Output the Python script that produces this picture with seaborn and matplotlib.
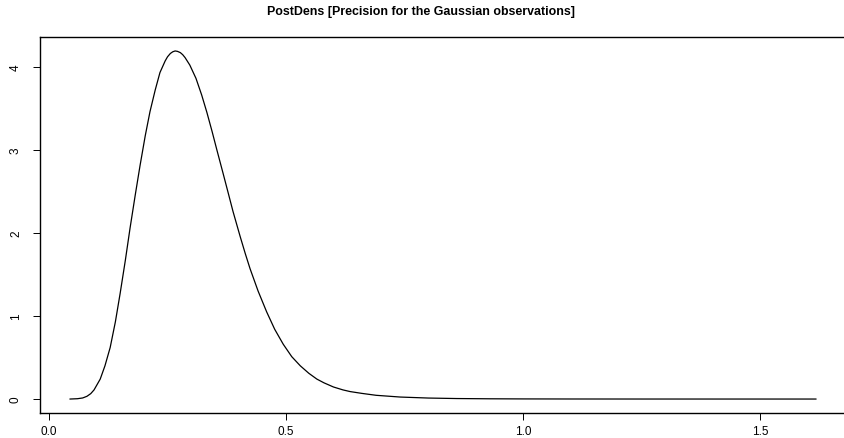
import numpy as np
import pandas as pd
import matplotlib
matplotlib.use("Agg")
import matplotlib.pyplot as plt
import seaborn as sns

# values
precision = [0.044, 0.060, 0.071, 0.080, 0.088, 0.095, 0.101, 0.108, 0.118, 0.129,
             0.140, 0.150, 0.161, 0.171, 0.182, 0.192, 0.203, 0.213, 0.224, 0.234,
             0.245, 0.250, 0.256, 0.261, 0.266, 0.271, 0.277, 0.282, 0.287, 0.297,
             0.310, 0.322, 0.333, 0.344, 0.354, 0.367, 0.378, 0.388, 0.403, 0.414,
             0.424, 0.441, 0.459, 0.476, 0.494, 0.512, 0.530, 0.548, 0.565, 0.580,
             0.600, 0.620, 0.635, 0.660, 0.690, 0.741, 0.800, 0.860, 0.930, 1.000,
             1.100, 1.250, 1.400, 1.618]
density = [0.000, 0.004, 0.013, 0.033, 0.065, 0.11, 0.17, 0.24, 0.40, 0.62,
           0.93, 1.27, 1.67, 2.06, 2.46, 2.81, 3.17, 3.46, 3.72, 3.93,
           4.07, 4.12, 4.16, 4.18, 4.19, 4.185, 4.17, 4.145, 4.11, 4.02,
           3.86, 3.66, 3.45, 3.22, 3.00, 2.72, 2.48, 2.26, 1.96, 1.75,
           1.57, 1.30, 1.05, 0.84, 0.66, 0.51, 0.40, 0.31, 0.24, 0.195,
           0.145, 0.11, 0.09, 0.068, 0.045, 0.024, 0.012, 0.006, 0.003, 0.0015,
           0.0006, 0.0002, 0.0001, 0.0]

x_ticks = [0.0, 0.5, 1.0, 1.5]
y_ticks = [0, 1, 2, 3, 4]
title = "PostDens [Precision for the Gaussian observations]"

df = pd.DataFrame({"x": precision, "y": density})

sns.set_style("white")
plt.rcParams["font.family"] = ["Liberation Sans", "DejaVu Sans"]

fig = plt.figure(figsize=(8.44, 4.39), dpi=100)
ax = fig.add_axes([40 / 844, 1 - 414 / 439, (846 - 40) / 844, (414 - 38) / 439])

sns.lineplot(data=df, x="x", y="y", color="black", linewidth=0.9, ax=ax)

ax.set_xlim(-0.019, 1.681)
ax.set_ylim(-0.168, 4.358)
ax.set_xticks(x_ticks)
ax.set_xticklabels(["0.0", "0.5", "1.0", "1.5"])
ax.set_yticks(y_ticks)
ax.set_yticklabels([str(v) for v in y_ticks], rotation=90, va="center")
ax.tick_params(axis="both", direction="out", length=5, width=0.7, color="black",
               labelcolor="black", labelsize=8.5, left=True, bottom=True)
ax.tick_params(axis="x", pad=4)
ax.tick_params(axis="y", pad=8)
ax.set_xlabel("")
ax.set_ylabel("")

for side in ["left", "top", "bottom"]:
    ax.spines[side].set_visible(True)
    ax.spines[side].set_color("black")
    ax.spines[side].set_linewidth(1.0)
ax.spines["right"].set_visible(False)

fig.text(421 / 844, 1 - 12 / 439, title, ha="center", va="center",
         fontsize=8.9, fontweight="bold", color="black")

fig.savefig("out.png", dpi=100)
